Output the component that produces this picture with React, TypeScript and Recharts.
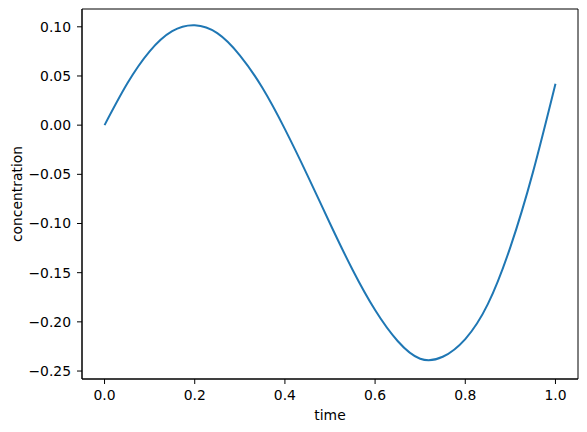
import React from 'react';
import { LineChart, Line, XAxis, YAxis, ReferenceArea, Label } from 'recharts';

const times = [0, 0.05, 0.1, 0.15, 0.2, 0.25, 0.3, 0.35, 0.4, 0.45, 0.5, 0.55, 0.6, 0.65, 0.7, 0.75, 0.8, 0.85, 0.9, 0.95, 1.0];
const concentration = [0, 0.042, 0.075, 0.0955, 0.1015, 0.0935, 0.071, 0.038, -0.004, -0.051, -0.1, -0.147, -0.188, -0.2195, -0.2375, -0.2355, -0.2175, -0.182, -0.124, -0.048, 0.042];

const xTicks = [0, 0.2, 0.4, 0.6, 0.8, 1.0];
const yTicks = [-0.25, -0.2, -0.15, -0.1, -0.05, 0, 0.05, 0.1];

const data = times.map((t, i) => ({ time: t, concentration: concentration[i] }));

const FONT = 'DejaVu Sans, sans-serif';
const fmtY = (v: number) => v.toFixed(2).replace('-', '\u2212');

const App = () => {
  return (
    <div style={{ position: 'absolute', left: 0, top: 0, background: '#fff' }}>
      <LineChart width={587} height={432} data={data} margin={{ top: 9, right: 9, bottom: 0, left: 0 }}>
        <XAxis
          dataKey="time"
          type="number"
          domain={[-0.05, 1.05]}
          ticks={xTicks}
          tickFormatter={(v: number) => v.toFixed(1)}
          height={53}
          stroke="#000"
          tickSize={5}
          tickMargin={6}
          tick={{ fill: '#000', fontSize: 13.9, fontFamily: FONT }}
          allowDataOverflow
        >
          <Label value="time" position="insideBottom" offset={12} style={{ fill: '#000', fontSize: 13.9, fontFamily: FONT }} />
        </XAxis>
        <YAxis
          type="number"
          domain={[-0.2581, 0.1181]}
          ticks={yTicks}
          tickFormatter={fmtY}
          width={82}
          stroke="#000"
          tickSize={5}
          tickMargin={6}
          tick={{ fill: '#000', fontSize: 13.9, fontFamily: FONT }}
          allowDataOverflow
        >
          <Label
            content={({ viewBox }: any) => {
              const cy = viewBox.y + viewBox.height / 2;
              return (
                <text
                  x={22}
                  y={cy}
                  transform={`rotate(-90, 22, ${cy})`}
                  textAnchor="middle"
                  fill="#000"
                  fontSize={13.9}
                  fontFamily={FONT}
                >
                  concentration
                </text>
              );
            }}
          />
        </YAxis>
        <ReferenceArea x1={-0.05} x2={1.05} y1={-0.2581} y2={0.1181} fill="none" stroke="#000" strokeWidth={1} ifOverflow="visible" />
        <Line
          type="natural"
          dataKey="concentration"
          stroke="#1f77b4"
          strokeWidth={2}
          dot={false}
          isAnimationActive={false}
        />
      </LineChart>
    </div>
  );
};

export default App;
